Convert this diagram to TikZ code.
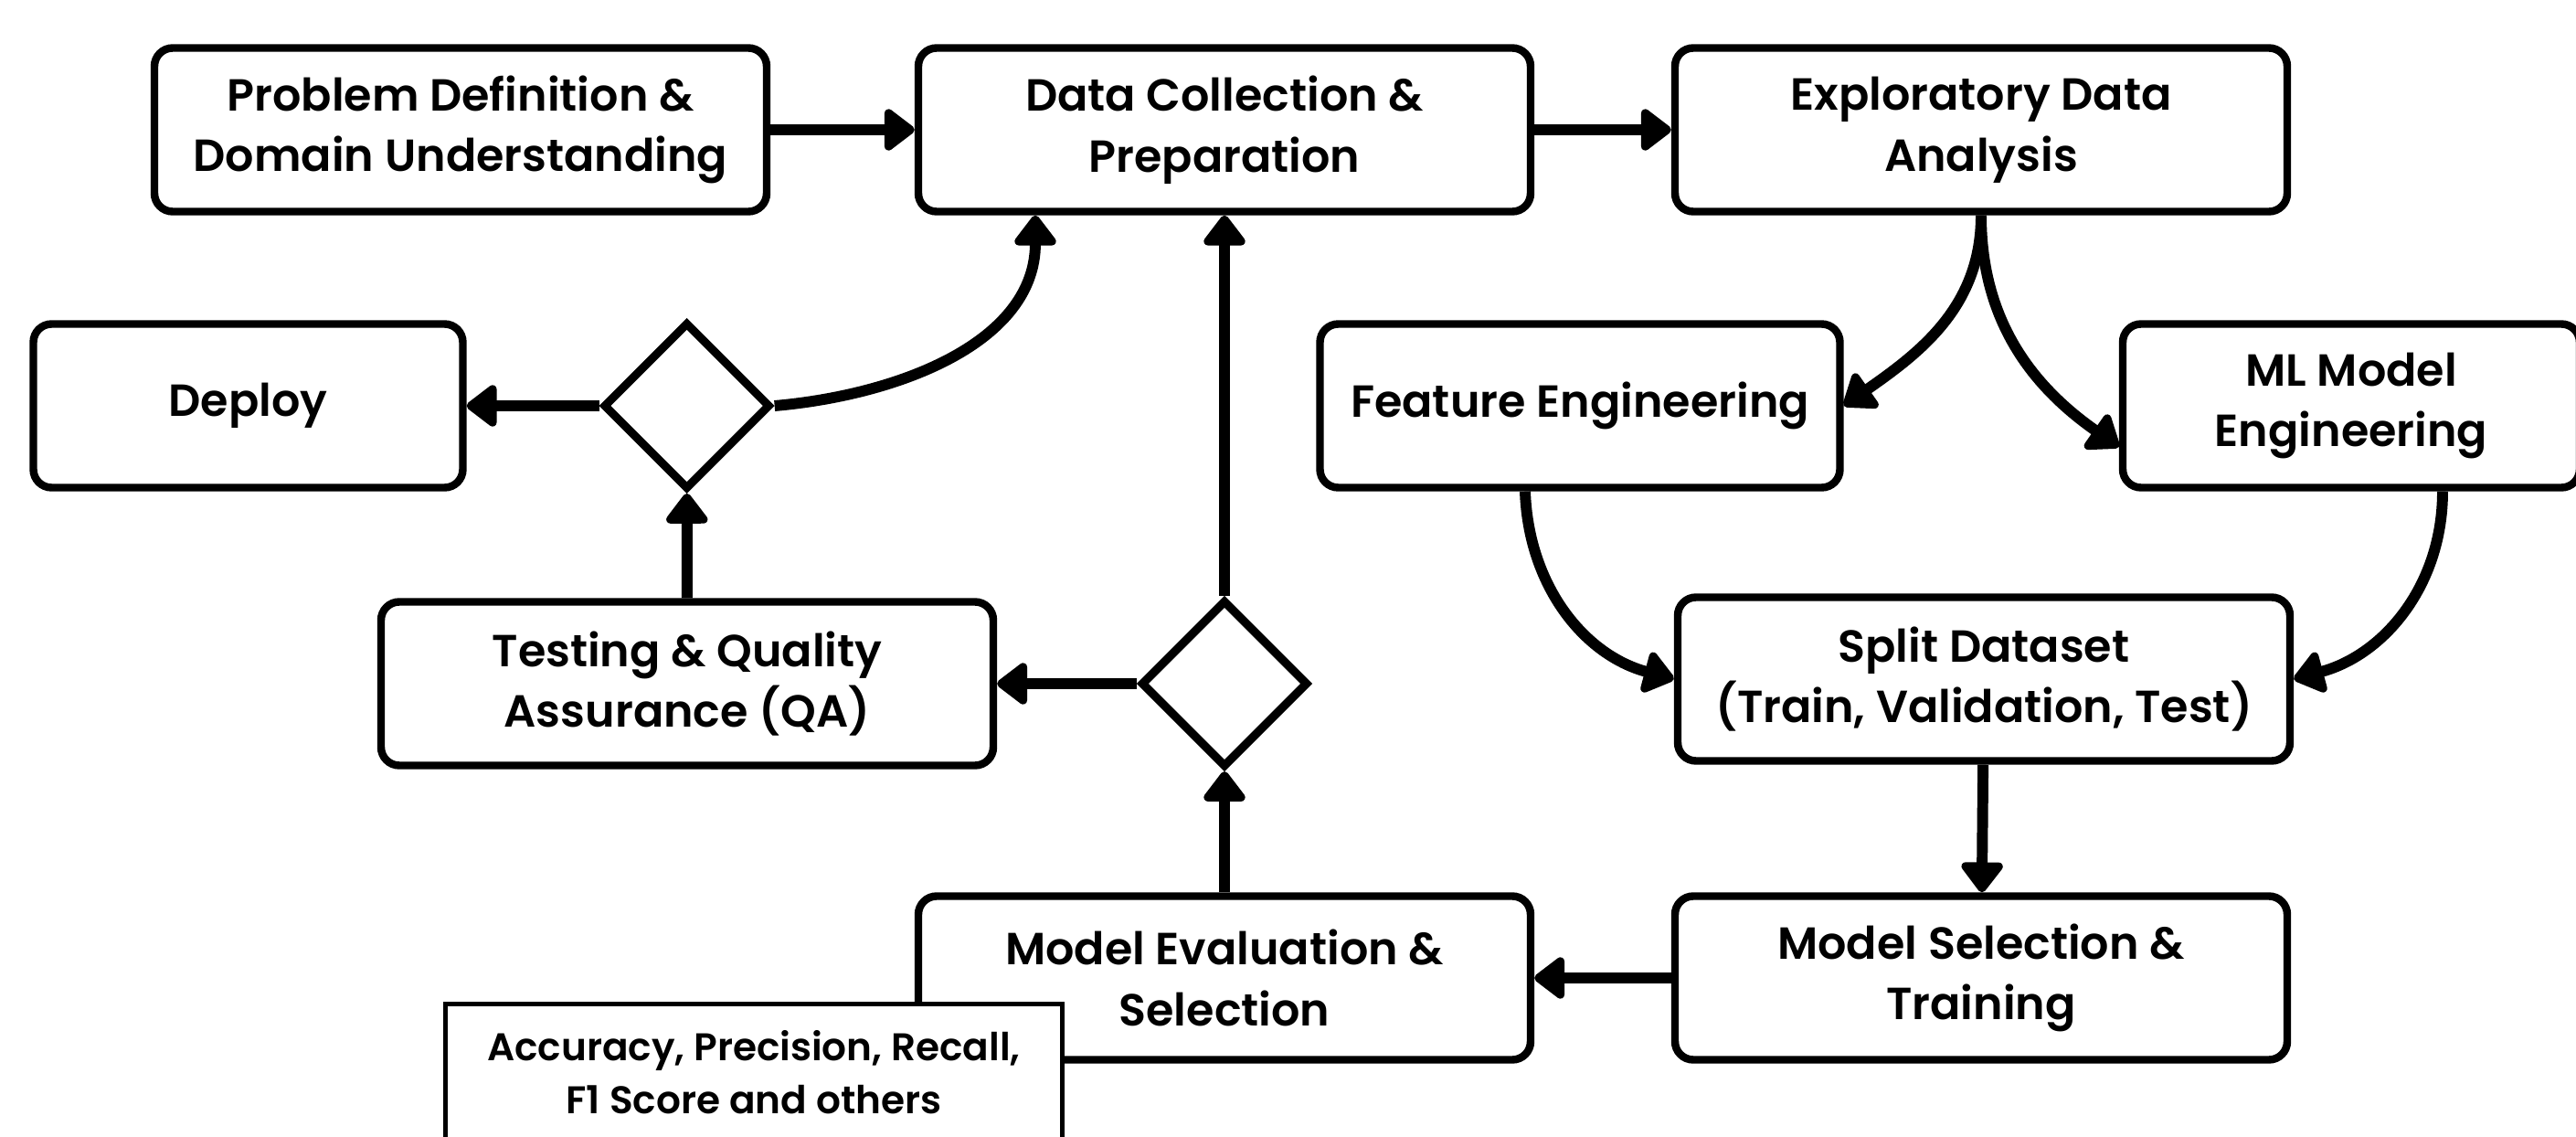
\documentclass[tikz,border=0pt]{standalone}
\usepackage{fontspec}
\setmainfont{Poppins}[UprightFont=* SemiBold, BoldFont=* Bold]
\usetikzlibrary{arrows.meta, shapes.geometric}

\begin{document}
\begin{tikzpicture}[
        stage/.style={draw, line width=2.4pt, rounded corners=0.2cm, align=center,
            minimum height=1.79cm, font=\fontsize{14}{19}\selectfont},
        gate/.style={draw, diamond, line width=2.6pt, minimum width=1.83cm,
            minimum height=1.83cm, inner sep=0pt},
        metricbox/.style={draw, line width=1.6pt, fill=white, align=center,
            minimum width=6.75cm, minimum height=1.49cm, font=\fontsize{12}{16.4}\selectfont},
        link/.style={line width=3.4pt, -{Triangle[length=0.36cm,width=0.52cm,round]}}
    ]
        \clip (0, 0) rectangle (28.19, 12.43);

        \node[stage, minimum width=6.7cm] (prob) at (5.04, 11.01) {Problem Definition \&\\Domain Understanding};
        \node[stage, minimum width=6.7cm] (data) at (13.40, 11.01) {Data Collection \&\\Preparation};
        \node[stage, minimum width=6.7cm] (eda) at (21.68, 11.01) {Exploratory Data\\Analysis};

        \node[stage, minimum width=4.7cm] (deploy) at (2.715, 7.99) {Deploy};
        \node[gate] (dec1) at (7.516, 7.99) {};
        \node[stage, minimum width=5.69cm] (feat) at (17.29, 7.99) {Feature Engineering};
        \node[stage, minimum width=5.0cm] (mlme) at (25.73, 7.99) {ML Model\\Engineering};

        \node[stage, minimum width=6.7cm] (qa) at (7.52, 4.95) {Testing \& Quality\\Assurance (QA)};
        \node[gate] (dec2) at (13.40, 4.95) {};
        \node[stage, minimum width=6.7cm] (split) at (21.71, 5.00) {Split Dataset\\(Train, Validation, Test)};

        \node[stage, minimum width=6.7cm] (eval) at (13.40, 1.73) {Model Evaluation \&\\Selection};
        \node[stage, minimum width=6.7cm] (train) at (21.68, 1.73) {Model Selection \&\\Training};
        \node[metricbox] (metrics) at (8.25, 0.70) {Accuracy, Precision, Recall,\\F1 Score and others};

        \draw[link] (prob) -- (data);
        \draw[link] (data) -- (eda);
        \draw[link] (eda.south) to[out=-90, in=35] (feat.east);
        \draw[link] (eda.south) to[out=-90, in=145] ([yshift=-0.45cm]mlme.west);
        \draw[link] ([xshift=-0.6cm]feat.south) to[out=-88, in=165] (split.west);
        \draw[link] ([xshift=1cm]mlme.south) to[out=-90, in=15] (split.east);
        \draw[link] (split) -- (train);
        \draw[link] (train) -- (eval);
        \draw[link] (eval) -- (dec2);
        \draw[link] (dec2) -- (qa);
        \draw[link] (dec2) -- (data);
        \draw[link] (qa) -- (dec1);
        \draw[link] (dec1) -- (deploy);
        \draw[link] (dec1.east) to[out=5, in=-90] ([xshift=-2.07cm]data.south);
    \end{tikzpicture}
\end{document}
